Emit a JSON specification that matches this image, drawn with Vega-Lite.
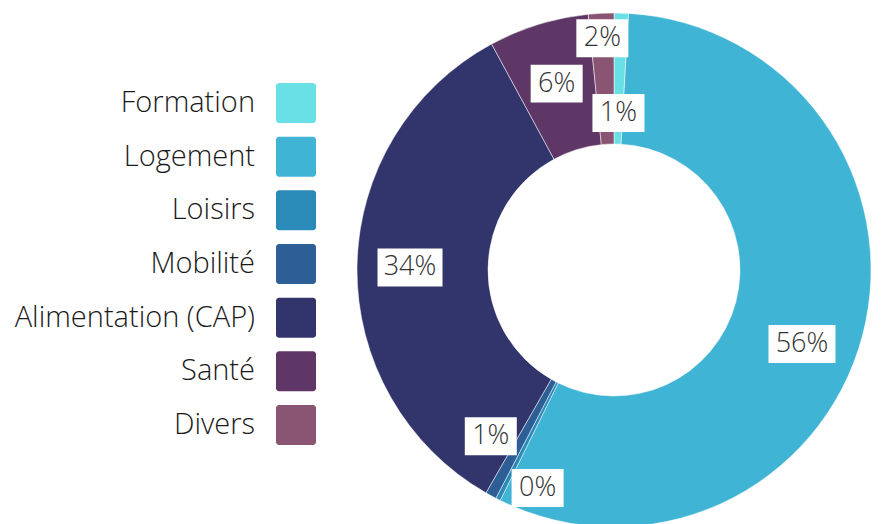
{
  "$schema": "https://vega.github.io/schema/vega-lite/v6.json",
  "padding": 0,
  "spacing": 0,
  "background": "white",
  "config": {"view": {"stroke": null}, "font": "Open Sans"},
  "data": {"values": [
    {"cat": "Formation", "value": 0.009, "order": 1},
    {"cat": "Logement", "value": 0.564, "order": 2},
    {"cat": "Loisirs", "value": 0.003, "order": 3},
    {"cat": "Mobilité", "value": 0.007, "order": 4},
    {"cat": "Alimentation (CAP)", "value": 0.338, "order": 5},
    {"cat": "Santé", "value": 0.063, "order": 6},
    {"cat": "Divers", "value": 0.016, "order": 7}
  ]},
  "hconcat": [
    {
      "width": 330,
      "height": 524,
      "encoding": {
        "x": {"datum": 0.897, "type": "quantitative", "scale": {"domain": [0, 1]}, "axis": null},
        "y": {"field": "cat", "type": "nominal", "sort": ["Formation", "Logement", "Loisirs", "Mobilité", "Alimentation (CAP)", "Santé", "Divers"], "scale": {"type": "point", "padding": 0, "range": [103, 425]}, "axis": null}
      },
      "layer": [
        {
          "mark": {"type": "rect", "width": 40, "height": 40, "cornerRadius": 3},
          "encoding": {
            "color": {"field": "cat", "type": "nominal", "legend": null,
              "scale": {"domain": ["Formation", "Logement", "Loisirs", "Mobilité", "Alimentation (CAP)", "Santé", "Divers"],
                        "range": ["#69e0e6", "#40b4d4", "#2a8ab8", "#2e5e96", "#32346c", "#5e3766", "#8a5572"]}}
          }
        },
        {
          "mark": {"type": "text", "align": "right", "baseline": "middle", "dx": -41, "fontSize": 29, "fontWeight": 300, "color": "#1a1a1a"},
          "encoding": {"text": {"field": "cat"}}
        }
      ]
    },
    {
      "width": 568,
      "height": 540,
      "transform": [
        {"stack": "value", "groupby": [], "sort": [{"field": "order", "order": "ascending"}], "as": ["v0", "v1"]},
        {"calculate": "(datum.v0 + datum.v1) / 2", "as": "mid"}
      ],
      "layer": [
        {
          "mark": {"type": "arc", "radius": 257, "radius2": 126, "stroke": "#ffffff", "strokeWidth": 0.5},
          "encoding": {
            "theta": {"field": "v0", "type": "quantitative", "scale": {"domain": [0, 1]}},
            "theta2": {"field": "v1"},
            "color": {"field": "cat", "type": "nominal", "legend": null,
              "scale": {"domain": ["Formation", "Logement", "Loisirs", "Mobilité", "Alimentation (CAP)", "Santé", "Divers"],
                        "range": ["#69e0e6", "#40b4d4", "#2a8ab8", "#2e5e96", "#32346c", "#5e3766", "#8a5572"]}}
          }
        },
        {
          "transform": [
            {"filter": "datum.cat === 'Formation'"},
            {"calculate": "157 * sin(2 * PI * datum.mid)", "as": "lx"},
            {"calculate": "157 * cos(2 * PI * datum.mid)", "as": "ly"}
          ],
          "encoding": {
            "x": {"field": "lx", "type": "quantitative", "scale": {"domain": [-284, 284]}, "axis": null},
            "y": {"field": "ly", "type": "quantitative", "scale": {"domain": [-270, 270]}, "axis": null}
          },
          "layer": [
            {"mark": {"type": "point", "shape": "M-1,-0.73H1V0.73H-1Z", "size": 2704, "filled": true, "color": "#ffffff", "opacity": 1}},
            {"mark": {"type": "text", "fontSize": 27, "fontWeight": 300, "color": "#333333", "baseline": "middle"}, "encoding": {"text": {"field": "value", "format": ".0%"}}}
          ]
        },
        {
          "transform": [
            {"filter": "datum.cat === 'Logement'"},
            {"calculate": "202 * sin(2 * PI * datum.mid + 0.117)", "as": "lx"},
            {"calculate": "202 * cos(2 * PI * datum.mid + 0.117)", "as": "ly"}
          ],
          "encoding": {
            "x": {"field": "lx", "type": "quantitative", "scale": {"domain": [-284, 284]}, "axis": null},
            "y": {"field": "ly", "type": "quantitative", "scale": {"domain": [-270, 270]}, "axis": null}
          },
          "layer": [
            {"mark": {"type": "point", "shape": "M-1,-0.567H1V0.567H-1Z", "size": 4489, "filled": true, "color": "#ffffff", "opacity": 1}},
            {"mark": {"type": "text", "fontSize": 27, "fontWeight": 300, "color": "#333333", "baseline": "middle"}, "encoding": {"text": {"field": "value", "format": ".0%"}}}
          ]
        },
        {
          "transform": [
            {"filter": "datum.cat === 'Loisirs'"},
            {"calculate": "231 * sin(2 * PI * datum.mid - 0.131)", "as": "lx"},
            {"calculate": "231 * cos(2 * PI * datum.mid - 0.131)", "as": "ly"}
          ],
          "encoding": {
            "x": {"field": "lx", "type": "quantitative", "scale": {"domain": [-284, 284]}, "axis": null},
            "y": {"field": "ly", "type": "quantitative", "scale": {"domain": [-270, 270]}, "axis": null}
          },
          "layer": [
            {"mark": {"type": "point", "shape": "M-1,-0.73H1V0.73H-1Z", "size": 2704, "filled": true, "color": "#ffffff", "opacity": 1}},
            {"mark": {"type": "text", "fontSize": 27, "fontWeight": 300, "color": "#333333", "baseline": "middle"}, "encoding": {"text": {"field": "value", "format": ".0%"}}}
          ]
        },
        {
          "transform": [
            {"filter": "datum.cat === 'Mobilité'"},
            {"calculate": "207 * sin(2 * PI * datum.mid + 0.138)", "as": "lx"},
            {"calculate": "207 * cos(2 * PI * datum.mid + 0.138)", "as": "ly"}
          ],
          "encoding": {
            "x": {"field": "lx", "type": "quantitative", "scale": {"domain": [-284, 284]}, "axis": null},
            "y": {"field": "ly", "type": "quantitative", "scale": {"domain": [-270, 270]}, "axis": null}
          },
          "layer": [
            {"mark": {"type": "point", "shape": "M-1,-0.73H1V0.73H-1Z", "size": 2704, "filled": true, "color": "#ffffff", "opacity": 1}},
            {"mark": {"type": "text", "fontSize": 27, "fontWeight": 300, "color": "#333333", "baseline": "middle"}, "encoding": {"text": {"field": "value", "format": ".0%"}}}
          ]
        },
        {
          "transform": [
            {"filter": "datum.cat === 'Alimentation (CAP)'"},
            {"calculate": "204 * sin(2 * PI * datum.mid)", "as": "lx"},
            {"calculate": "204 * cos(2 * PI * datum.mid)", "as": "ly"}
          ],
          "encoding": {
            "x": {"field": "lx", "type": "quantitative", "scale": {"domain": [-284, 284]}, "axis": null},
            "y": {"field": "ly", "type": "quantitative", "scale": {"domain": [-270, 270]}, "axis": null}
          },
          "layer": [
            {"mark": {"type": "point", "shape": "M-1,-0.585H1V0.585H-1Z", "size": 4225, "filled": true, "color": "#ffffff", "opacity": 1}},
            {"mark": {"type": "text", "fontSize": 27, "fontWeight": 300, "color": "#333333", "baseline": "middle"}, "encoding": {"text": {"field": "value", "format": ".0%"}}}
          ]
        },
        {
          "transform": [
            {"filter": "datum.cat === 'Santé'"},
            {"calculate": "195 * sin(2 * PI * datum.mid)", "as": "lx"},
            {"calculate": "195 * cos(2 * PI * datum.mid)", "as": "ly"}
          ],
          "encoding": {
            "x": {"field": "lx", "type": "quantitative", "scale": {"domain": [-284, 284]}, "axis": null},
            "y": {"field": "ly", "type": "quantitative", "scale": {"domain": [-270, 270]}, "axis": null}
          },
          "layer": [
            {"mark": {"type": "point", "shape": "M-1,-0.73H1V0.73H-1Z", "size": 2704, "filled": true, "color": "#ffffff", "opacity": 1}},
            {"mark": {"type": "text", "fontSize": 27, "fontWeight": 300, "color": "#333333", "baseline": "middle"}, "encoding": {"text": {"field": "value", "format": ".0%"}}}
          ]
        },
        {
          "transform": [
            {"filter": "datum.cat === 'Divers'"},
            {"calculate": "232 * sin(2 * PI * datum.mid)", "as": "lx"},
            {"calculate": "232 * cos(2 * PI * datum.mid)", "as": "ly"}
          ],
          "encoding": {
            "x": {"field": "lx", "type": "quantitative", "scale": {"domain": [-284, 284]}, "axis": null},
            "y": {"field": "ly", "type": "quantitative", "scale": {"domain": [-270, 270]}, "axis": null}
          },
          "layer": [
            {"mark": {"type": "point", "shape": "M-1,-0.73H1V0.73H-1Z", "size": 2704, "filled": true, "color": "#ffffff", "opacity": 1}},
            {"mark": {"type": "text", "fontSize": 27, "fontWeight": 300, "color": "#333333", "baseline": "middle"}, "encoding": {"text": {"field": "value", "format": ".0%"}}}
          ]
        }
      ]
    }
  ]
}
